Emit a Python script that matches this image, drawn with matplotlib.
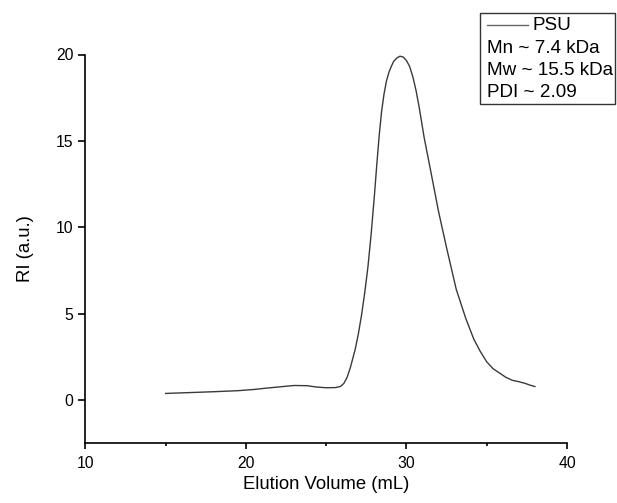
import matplotlib
matplotlib.use("Agg")
import matplotlib.pyplot as plt
from matplotlib.lines import Line2D
from matplotlib.patches import Rectangle
from matplotlib.ticker import MultipleLocator

plt.rcParams['font.family'] = ['Liberation Sans', 'DejaVu Sans']

elution_ml = [15.0, 16.5, 18.0, 19.5, 20.5, 21.3, 22.2, 23.0, 23.8, 24.4, 25.0, 25.6,
              25.9, 26.1, 26.3, 26.5, 26.8, 27.0, 27.2, 27.4, 27.6, 27.8, 28.0, 28.15,
              28.3, 28.45, 28.6, 28.75, 28.9, 29.05, 29.2, 29.4, 29.6, 29.8, 30.0,
              30.2, 30.4, 30.6, 30.8, 31.1, 31.5, 32.0, 32.5, 33.1, 33.7, 34.2, 34.6,
              35.0, 35.4, 35.8, 36.2, 36.6, 37.0, 37.4, 37.7, 38.0]
ri_signal = [0.37, 0.42, 0.47, 0.53, 0.60, 0.68, 0.76, 0.83, 0.82, 0.74, 0.70, 0.71,
             0.78, 0.95, 1.30, 1.85, 2.90, 3.80, 4.90, 6.20, 7.70, 9.60, 11.8, 13.6,
             15.3, 16.7, 17.7, 18.45, 18.95, 19.3, 19.6, 19.8, 19.9, 19.85, 19.65,
             19.3, 18.7, 17.9, 16.9, 15.2, 13.3, 10.9, 8.8, 6.4, 4.7, 3.5, 2.8,
             2.2, 1.8, 1.55, 1.30, 1.13, 1.05, 0.95, 0.85, 0.77]

series_name = "PSU"
legend_notes = ["Mn ~ 7.4 kDa", "Mw ~ 15.5 kDa", "PDI ~ 2.09"]
x_ticks = [10, 20, 30, 40]
y_ticks = [0, 5, 10, 15, 20]

W, H = 617, 503
fig = plt.figure(figsize=(W / 100, H / 100), dpi=100)
ax = fig.add_axes([85.4 / W, 1 - 443 / H, (567 - 85.4) / W, (443 - 54.5) / H])

line_color = "#3a3a3a"
ax.plot(elution_ml, ri_signal, color=line_color, lw=1.0)

ax.set_xlim(10, 40)
ax.set_ylim(-2.5, 20)
ax.set_xticks(x_ticks)
ax.set_yticks(y_ticks)
ax.xaxis.set_minor_locator(MultipleLocator(5))
for s in ["top", "right"]:
    ax.spines[s].set_visible(False)
for s in ["left", "bottom"]:
    ax.spines[s].set_linewidth(1.2)
ax.tick_params(axis="y", which="major", direction="out", length=5, width=1.2,
               labelsize=11.3, pad=3.5)
ax.tick_params(axis="x", which="major", direction="out", length=4, width=1.2,
               labelsize=11.3, pad=5)
ax.tick_params(axis="x", which="minor", direction="out", length=2.5, width=1.2)

ax.set_xlabel("Elution Volume (mL)", fontsize=13.3, labelpad=4)
ax.set_ylabel("RI (a.u.)", fontsize=13.3, labelpad=16)

# legend box (Origin-style, outside axes top right)
bx0, bx1 = 479.5 / W, 615 / W
by0, by1 = 1 - 104 / H, 1 - 12.7 / H
fig.add_artist(Rectangle((bx0, by0), bx1 - bx0, by1 - by0, transform=fig.transFigure,
                         fill=False, edgecolor="#333333", lw=1.0))
fig.add_artist(Line2D([486.7 / W, 528.3 / W], [1 - 25 / H, 1 - 25 / H],
                      transform=fig.transFigure, color="#666666", lw=1.0))
fig.text(532.0 / W, 1 - 25 / H, series_name, fontsize=13.6, va="center", ha="left")
for i, note in enumerate(legend_notes):
    fig.text(487.0 / W, 1 - (48.3 + 22.2 * i) / H, note, fontsize=13.6,
             va="center", ha="left")

fig.savefig("out.png", dpi=100)
